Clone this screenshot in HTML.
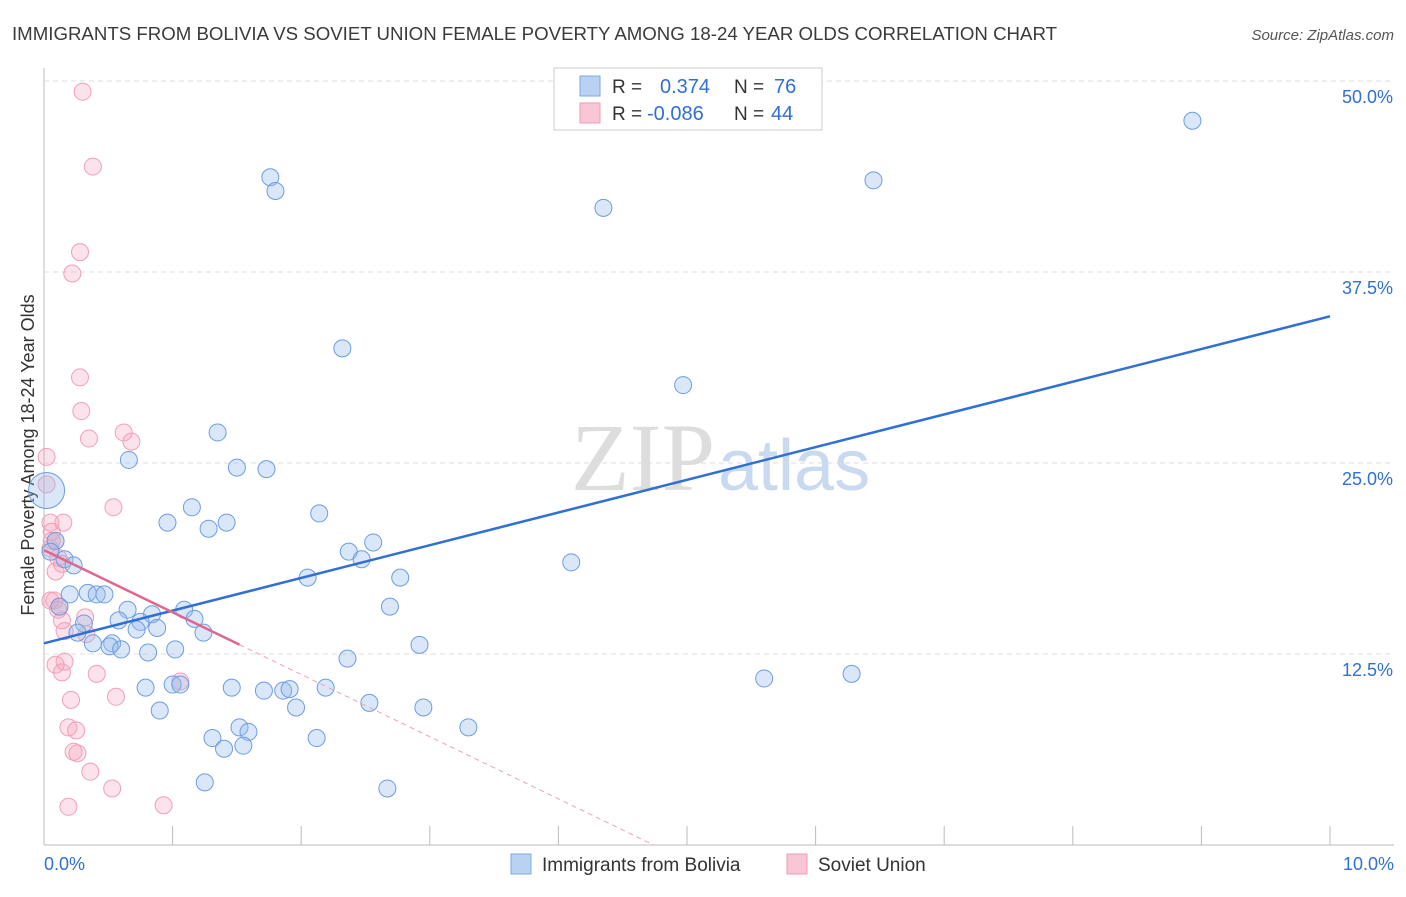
<!DOCTYPE html>
<html><head><meta charset="utf-8"><style>
body{margin:0;background:#fff;font-family:"Liberation Sans",sans-serif}
</style></head><body>
<svg id="c" width="1406" height="892" xmlns="http://www.w3.org/2000/svg">
<text x="12" y="40" font-size="18" fill="#3a3a3a" textLength="1045" lengthAdjust="spacingAndGlyphs">IMMIGRANTS FROM BOLIVIA VS SOVIET UNION FEMALE POVERTY AMONG 18-24 YEAR OLDS CORRELATION CHART</text>
<text x="1394" y="40" font-size="15" fill="#555" font-style="italic" text-anchor="end">Source: ZipAtlas.com</text>
<text x="715" y="490" font-size="96" font-family="Liberation Serif" fill="#ddd" text-anchor="end">ZIP</text>
<text x="718" y="490" font-size="72" fill="#c9daf0">atlas</text>
<text transform="translate(34,455) rotate(-90)" font-size="18" fill="#333" text-anchor="middle">Female Poverty Among 18-24 Year Olds</text>
<g id="grid"></g><g id="marks"></g><g id="lines"></g>
<g>
<rect x="554" y="68" width="268" height="62" fill="#fff" stroke="#ccc"/>
<rect x="580" y="76" width="20" height="20" fill="#b9d1f2" stroke="#7fa8e0"/>
<rect x="580" y="103" width="20" height="20" fill="#f9c6d5" stroke="#ee9ab3"/>
<text x="612" y="93" font-size="19" fill="#333">R = </text><text x="660" y="93" font-size="20" fill="#2f6fd6">0.374</text>
<text x="734" y="93" font-size="19" fill="#333">N = </text><text x="774" y="93" font-size="20" fill="#2f6fd6">76</text>
<text x="612" y="120" font-size="19" fill="#333">R = </text><text x="647" y="120" font-size="20" fill="#2f6fd6">-0.086</text>
<text x="734" y="120" font-size="19" fill="#333">N = </text><text x="771" y="120" font-size="20" fill="#2f6fd6">44</text>
</g>
<g>
<rect x="511" y="854" width="20" height="20" fill="#b9d1f2" stroke="#7fa8e0"/>
<text x="542" y="871" font-size="19" fill="#333">Immigrants from Bolivia</text>
<rect x="787" y="854" width="20" height="20" fill="#f9c6d5" stroke="#ee9ab3"/>
<text x="818" y="871" font-size="19" fill="#333">Soviet Union</text>
</g>
</svg>
<script>
const bx=[8.93,6.45,4.35,1.76,1.80,2.32,4.97,1.35,0.66,1.50,1.73,1.15,0.96,1.42,1.28,2.14,2.56,2.37,2.47,4.10,2.77,2.05,0.09,0.05,0.16,0.23,0.20,0.34,0.41,0.47,2.69,0.65,0.12,0.84,1.09,0.58,0.75,0.88,1.17,0.72,0.31,0.26,1.24,0.38,0.53,0.51,0.60,0.81,1.02,2.92,2.36,5.60,6.28,0.79,1.00,1.06,1.46,1.71,1.86,1.91,2.19,2.53,2.95,1.96,0.90,3.30,1.52,1.59,1.31,2.12,1.40,1.55,1.25,2.67];
const by=[47.4,43.5,41.7,43.7,42.8,32.5,30.1,27.0,25.2,24.7,24.6,22.1,21.1,21.1,20.7,21.7,19.8,19.2,18.7,18.5,17.5,17.5,19.9,19.2,18.7,18.3,16.4,16.5,16.4,16.4,15.6,15.4,15.6,15.1,15.4,14.7,14.6,14.2,14.8,14.1,14.5,13.9,13.9,13.2,13.2,13.0,12.8,12.6,12.8,13.1,12.2,10.9,11.2,10.3,10.5,10.5,10.3,10.1,10.1,10.2,10.3,9.3,9.0,9.0,8.8,7.7,7.7,7.4,7.0,7.0,6.3,6.5,4.1,3.7];
const px=[0.30,0.38,0.28,0.22,0.28,0.29,0.35,0.62,0.68,0.02,0.02,0.54,0.05,0.15,0.06,0.09,0.05,0.11,0.14,0.09,0.08,0.12,0.32,0.14,0.16,0.33,0.16,0.09,0.14,0.41,1.06,0.56,0.21,0.19,0.25,0.23,0.26,0.36,0.53,0.19,0.93,0.06,0.05,0.11];
const py=[49.3,44.4,38.8,37.4,30.6,28.4,26.6,27.0,26.4,25.4,23.6,22.1,21.1,21.1,20.5,19.9,19.4,18.8,18.4,17.9,16.0,15.6,14.9,14.7,14.0,13.8,12.0,11.8,11.3,11.2,10.7,9.7,9.5,7.7,7.5,6.1,6.0,4.8,3.7,2.5,2.6,19.9,16.0,15.4];
const bigX=[0.02],bigY=[23.2];
const yTicks=[12.5,25,37.5,50];
const xTicks=[0,1,2,3,4,5,6,7,8,9,10];
const blueTrend=[13.2,34.6]; // y at x=0 and x=10
const pinkTrend=[19.3,-4.07]; // intercept, slope
const X=v=>44+v*128.6, Y=v=>845-v*15.28;
const NS='http://www.w3.org/2000/svg';
function mk(t,a,p){const e=document.createElementNS(NS,t);for(const k in a)e.setAttribute(k,a[k]);document.getElementById(p).appendChild(e);return e;}
let e;
e=mk('line',{x1:44,y1:68,x2:44,y2:845,stroke:'#bbb'},'grid');


e=mk('line',{x1:44,y1:845,x2:1394,y2:845,stroke:'#bbb'},'grid');


yTicks.forEach(t=>{
 e=mk('line',{x1:44,y1:Y(t),x2:1394,y2:Y(t),stroke:'#ddd','stroke-dasharray':'5,4'},'grid');
 
 
 e=mk('text',{x:1393,y:Y(t)+22,'font-size':18,fill:'#2f6fd6','text-anchor':'end'},'grid');
 e.textContent=t.toFixed(1)+'%';
 
 
});
xTicks.forEach(t=>{
 if(t>0){e=mk('line',{x1:X(t),y1:826,x2:X(t),y2:845,stroke:'#bbb'},'grid');
 
 }
});
[[0,'start'],[10,'end']].forEach(([t,a])=>{
 e=mk('text',{x:t==0?44:1394,y:870,'font-size':18,fill:'#2f6fd6','text-anchor':a},'grid');
 e.textContent=t.toFixed(1)+'%';
 
 
});
px.forEach((v,i)=>{
 e=mk('circle',{cx:X(v),cy:Y(py[i]),r:8.5,fill:'rgba(244,160,185,0.3)',stroke:'#f0a0b8','stroke-width':1},'marks');
 
 
});
bx.forEach((v,i)=>{
 e=mk('circle',{cx:X(v),cy:Y(by[i]),r:8.5,fill:'rgba(150,185,235,0.35)',stroke:'#6d9de0','stroke-width':1},'marks');
 
 
});
bigX.forEach((v,i)=>{
 e=mk('circle',{cx:X(v),cy:Y(bigY[i]),r:18,fill:'rgba(150,185,235,0.35)',stroke:'#6d9de0','stroke-width':1},'marks');
 
 
});
e=mk('line',{x1:X(0),y1:Y(blueTrend[0]),x2:X(10),y2:Y(blueTrend[1]),stroke:'#2f6fd6','stroke-width':2.5},'lines');


const pe=1.52, pz=-pinkTrend[0]/pinkTrend[1];
e=mk('line',{x1:X(0),y1:Y(pinkTrend[0]),x2:X(pe),y2:Y(pinkTrend[0]+pinkTrend[1]*pe),stroke:'#e0668e','stroke-width':2.5},'lines');


e=mk('line',{x1:X(pe),y1:Y(pinkTrend[0]+pinkTrend[1]*pe),x2:X(pz),y2:Y(0),stroke:'#eea0b8','stroke-width':1,'stroke-dasharray':'5,4'},'lines');


</script>
</body></html>
